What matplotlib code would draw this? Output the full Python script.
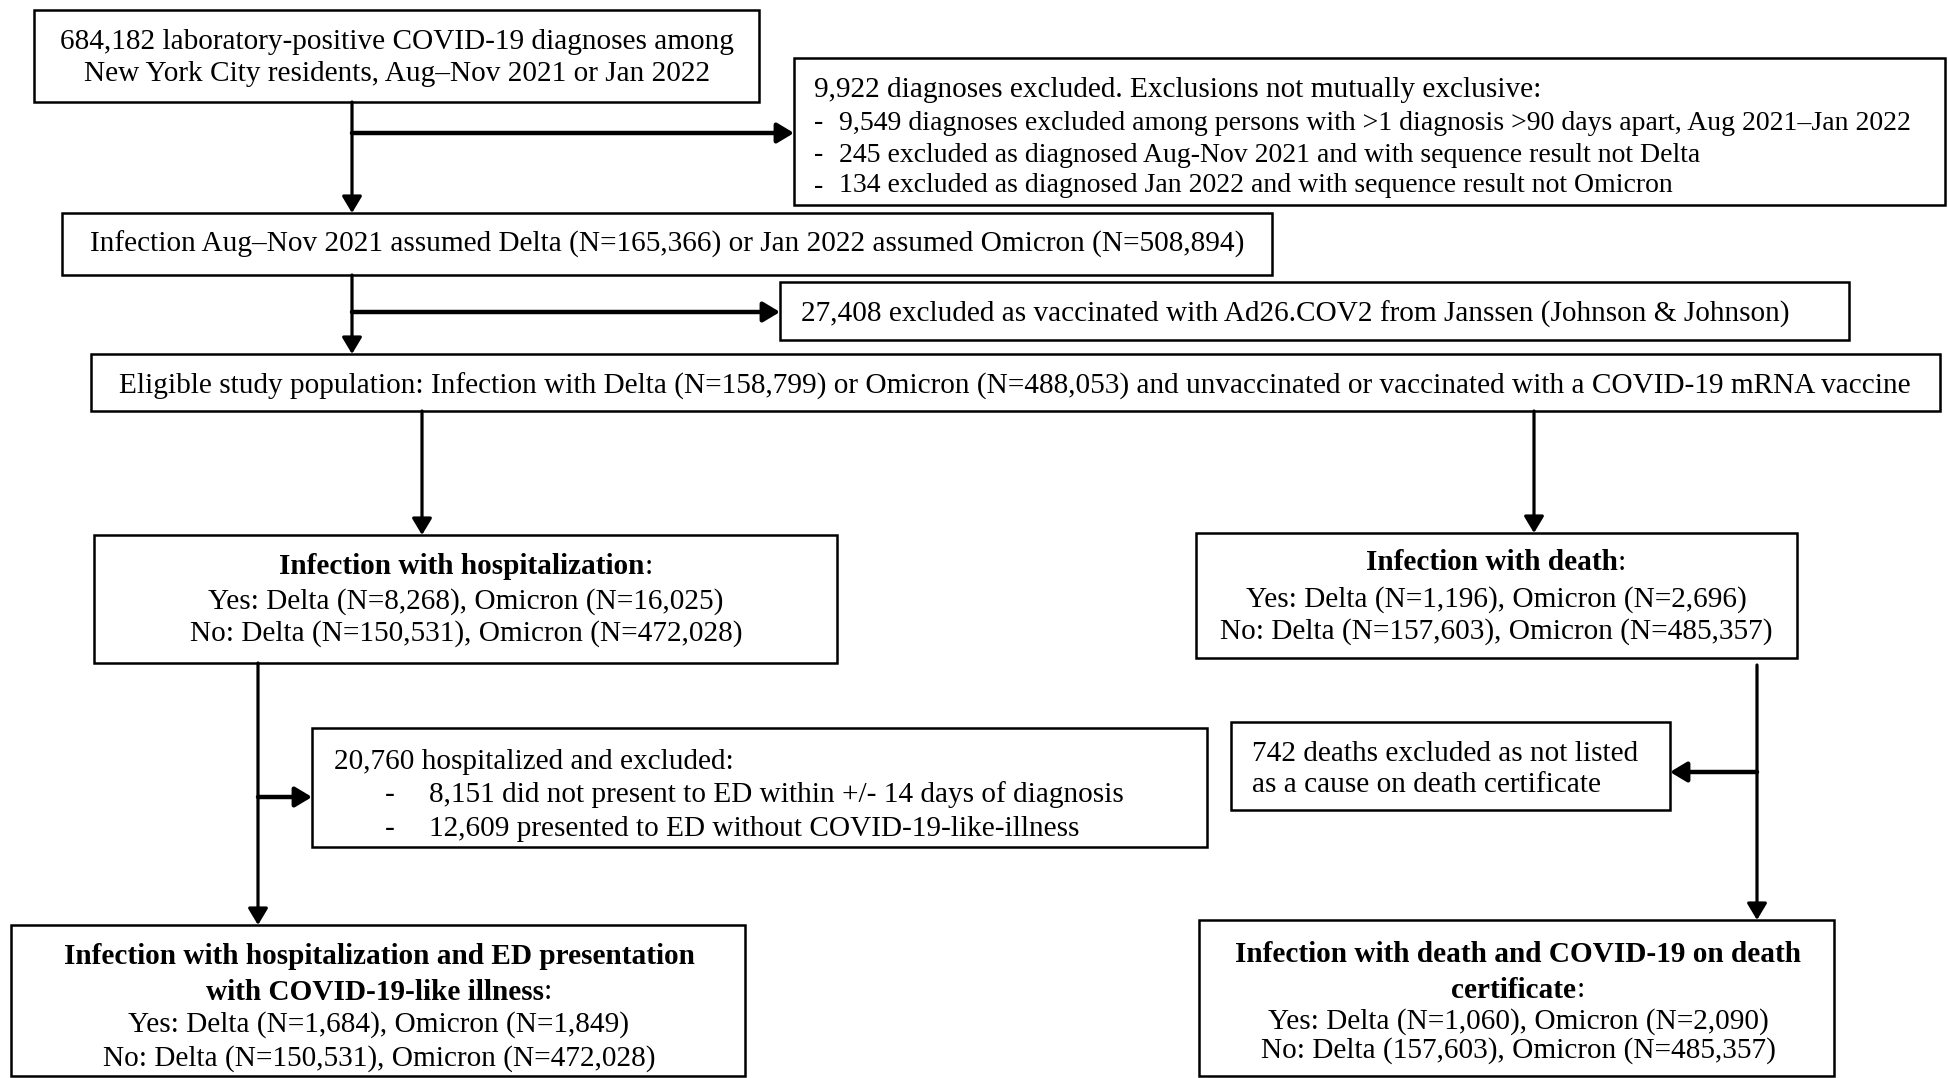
import matplotlib
matplotlib.use('Agg')
import matplotlib.pyplot as plt
from matplotlib.patches import Rectangle

plt.rcParams['font.family'] = ['Liberation Serif', 'DejaVu Serif']

# ---------------- data (text of the flow chart) ----------------
source_lines = ["684,182 laboratory-positive COVID-19 diagnoses among",
                "New York City residents, Aug\u2013Nov 2021 or Jan 2022"]
excl1_head = "9,922 diagnoses excluded. Exclusions not mutually exclusive:"
excl1_items = ["9,549 diagnoses excluded among persons with >1 diagnosis >90 days apart, Aug 2021\u2013Jan 2022",
               "245 excluded as diagnosed Aug-Nov 2021 and with sequence result not Delta",
               "134 excluded as diagnosed Jan 2022 and with sequence result not Omicron"]
assumed_line = "Infection Aug\u2013Nov 2021 assumed Delta (N=165,366) or Jan 2022 assumed Omicron (N=508,894)"
excl2_line = "27,408 excluded as vaccinated with Ad26.COV2 from Janssen (Johnson & Johnson)"
eligible_line = ("Eligible study population: Infection with Delta (N=158,799) or Omicron (N=488,053) "
                 "and unvaccinated or vaccinated with a COVID-19 mRNA vaccine")
hosp_title = ["Infection with hospitalization"]
hosp_lines = ["Yes: Delta (N=8,268), Omicron (N=16,025)",
              "No: Delta (N=150,531), Omicron (N=472,028)"]
death_title = ["Infection with death"]
death_lines = ["Yes: Delta (N=1,196), Omicron (N=2,696)",
               "No: Delta (N=157,603), Omicron (N=485,357)"]
excl3_head = "20,760 hospitalized and excluded:"
excl3_items = ["8,151 did not present to ED within +/- 14 days of diagnosis",
               "12,609 presented to ED without COVID-19-like-illness"]
excl4_lines = ["742 deaths excluded as not listed",
               "as a cause on death certificate"]
hosp_ed_title = ["Infection with hospitalization and ED presentation",
                 "with COVID-19-like illness"]
hosp_ed_lines = ["Yes: Delta (N=1,684), Omicron (N=1,849)",
                 "No: Delta (N=150,531), Omicron (N=472,028)"]
death_cert_title = ["Infection with death and COVID-19 on death",
                    "certificate"]
death_cert_lines = ["Yes: Delta (N=1,060), Omicron (N=2,090)",
                    "No: Delta (157,603), Omicron (N=485,357)"]

# ---------------- figure ----------------
W, H = 1948, 1078
fig = plt.figure(figsize=(W / 100, H / 100), dpi=100)
ax = fig.add_axes([0, 0, 1, 1])
ax.set_xlim(0, W)
ax.set_ylim(H, 0)
ax.axis('off')
renderer = fig.canvas.get_renderer()

FS = 21.1
FS_SMALL = 20.0
DY = 2
BOX_LW = 1.8
ARROW_LW = 2.3


def box(x0, y0, x1, y1):
    ax.add_patch(Rectangle((x0, y0), x1 - x0, y1 - y0, fill=False,
                           edgecolor='black', lw=BOX_LW, zorder=2))


def txt(x, y, s, ha='left', weight='normal', fs=None):
    return ax.text(x, y + DY, s, fontsize=fs or FS, ha=ha, va='center',
                   fontweight=weight, color='black', zorder=3)


def mixed(xc, y, parts):
    items = []
    for s, w in parts:
        t = txt(0, y, s, weight=w)
        items.append((t, t.get_window_extent(renderer=renderer).width))
    total = sum(wd for _, wd in items)
    x = xc - total / 2
    for t, wd in items:
        t.set_x(x)
        x += wd


def titled(xc, ys, title, lines):
    n = len(title)
    for i, s in enumerate(title):
        if i == n - 1:
            mixed(xc, ys[i], [(s, 'bold'), (':', 'normal')])
        else:
            mixed(xc, ys[i], [(s, 'bold')])
    for j, s in enumerate(lines):
        txt(xc, ys[n + j], s, ha='center')


def arrow(x0, y0, x1, y1, lw=ARROW_LW):
    ax.annotate('', xy=(x1, y1), xytext=(x0, y0),
                arrowprops=dict(arrowstyle='-|>,head_length=0.5,head_width=0.3',
                                color='black', lw=lw, shrinkA=0, shrinkB=0,
                                mutation_scale=20), zorder=4)


# Box 1: source
box(34, 10, 759, 102)
for y, s in zip([40, 72], source_lines):
    txt(397, y, s, ha='center')

# Box 3: first exclusions
box(794, 58, 1945, 205)
txt(814, 88, excl1_head)
for y, s in zip([121, 153, 184], excl1_items):
    txt(814, y, '-', fs=FS_SMALL)
    txt(839, y, s, fs=FS_SMALL)

# Box 2: assumed variant
box(62, 213, 1272, 275)
txt(667, 242, assumed_line, ha='center')

# Box 4: Janssen exclusion
box(780, 282, 1849, 340)
txt(801, 312, excl2_line)

# Box 5: eligible population
box(91, 354, 1940, 411)
txt(1015, 384, eligible_line, ha='center')

# Box 6: hospitalization
box(94, 535, 837, 663)
titled(466, [565, 600, 632], hosp_title, hosp_lines)

# Box 7: death
box(1196, 533, 1797, 658)
titled(1496, [561, 598, 630], death_title, death_lines)

# Box 9: hospital exclusions
box(312, 728, 1207, 847)
txt(334, 760, excl3_head)
for y, s in zip([793, 827], excl3_items):
    txt(385, y, '-')
    txt(429, y, s)

# Box 11: death exclusions
box(1231, 722, 1670, 810)
for y, s in zip([752, 783], excl4_lines):
    txt(1252, y, s)

# Box 8: hospitalization + ED
box(11, 925, 745, 1076)
titled(379, [955, 990, 1023, 1057], hosp_ed_title, hosp_ed_lines)

# Box 10: death certificate
box(1199, 920, 1834, 1076)
titled(1518, [952, 988, 1020, 1049], death_cert_title, death_cert_lines)

# ---------------- arrows ----------------
arrow(352, 102, 352, 213)
arrow(352, 133, 794, 133, lw=3.2)
arrow(352, 275, 352, 354)
arrow(352, 312, 780, 312, lw=3.2)
arrow(422, 411, 422, 535)
arrow(1534, 411, 1534, 533)
arrow(258, 663, 258, 925)
arrow(258, 797, 312, 797, lw=3.2)
arrow(1757, 665, 1757, 920)
arrow(1757, 772, 1670, 772, lw=3.2)

fig.savefig('out.png', dpi=100, facecolor='white')
